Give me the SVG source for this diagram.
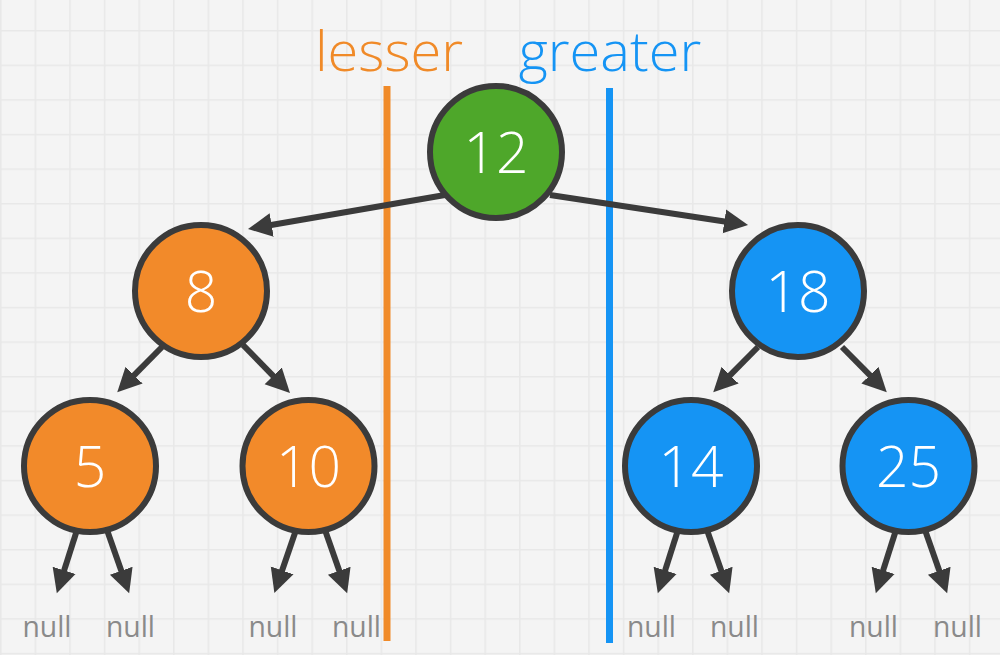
<svg xmlns="http://www.w3.org/2000/svg" width="1000" height="655" viewBox="0 0 1000 655">
<defs>
<pattern id="grid" patternUnits="userSpaceOnUse" x="0" y="30" width="34.6" height="34.6">
<rect width="34.6" height="34.6" fill="#f4f4f4"/>
<path d="M0.75 0V34.6M0 0.75H34.6" stroke="#e8e8e8" stroke-width="1.5" fill="none"/>
</pattern>
<marker id="ah" markerUnits="userSpaceOnUse" markerWidth="26" markerHeight="26" viewBox="0 -13 26 26" refX="2" refY="0" orient="auto">
<path d="M0,-12 L24,0 L0,12 z" fill="#3b3b3b"/>
</marker>
<style>
.n{stroke:#3b3b3b;stroke-width:6}
.g{fill:#4ea72a}.o{fill:#f28a2a}.b{fill:#1594f4}
.v{font-family:"Open Sans","Liberation Sans",sans-serif;font-weight:350;font-size:57px;fill:#fff;text-anchor:middle}
.c line{stroke:#3b3b3b;stroke-width:6;marker-end:url(#ah)}
.nl{font-family:"Open Sans","Liberation Sans",sans-serif;font-size:30px;fill:#8a8a8a;text-anchor:middle}
.h{font-family:"Open Sans","Liberation Sans",sans-serif;font-weight:350;font-size:56px}
</style>
</defs>
<rect width="1000" height="655" fill="url(#grid)"/>
<g id="divider-lesser">
<line x1="387" y1="86" x2="387" y2="641" stroke="#f08a28" stroke-width="7"/>
<text class="h" x="389" y="71" fill="#f08a28" text-anchor="middle">lesser</text>
</g>
<g id="divider-greater">
<line x1="609.5" y1="88" x2="609.5" y2="643" stroke="#1594f4" stroke-width="7"/>
<text class="h" x="610" y="71" fill="#1594f4" text-anchor="middle">greater</text>
</g>
<g id="connectors" class="c">
<line x1="445" y1="195" x2="269.7" y2="225.3"/>
<line x1="550" y1="195" x2="726.3" y2="221.7"/>
<line x1="162" y1="347" x2="132.7" y2="376.6"/>
<line x1="243" y1="345" x2="274.6" y2="377.3"/>
<line x1="758" y1="347" x2="728.7" y2="376.6"/>
<line x1="842" y1="347" x2="871.3" y2="376.6"/>
<line x1="77" y1="530" x2="63.5" y2="572.3"/>
<line x1="107" y1="530" x2="121.9" y2="572.6"/>
<line x1="296" y1="530" x2="281.5" y2="572.3"/>
<line x1="325" y1="530" x2="339.9" y2="572.6"/>
<line x1="678" y1="530" x2="664.5" y2="572.3"/>
<line x1="707" y1="530" x2="721.9" y2="572.6"/>
<line x1="896" y1="530" x2="882.5" y2="572.3"/>
<line x1="925" y1="530" x2="939.9" y2="572.6"/>
</g>
<g id="node-12"><circle class="n g" cx="496" cy="152" r="66"/><text class="v" x="496" y="173">12</text></g>
<g id="node-8"><circle class="n o" cx="201" cy="291" r="66"/><text class="v" x="201" y="312">8</text></g>
<g id="node-18"><circle class="n b" cx="798" cy="291" r="66"/><text class="v" x="798" y="312">18</text></g>
<g id="node-5"><circle class="n o" cx="90" cy="466" r="66"/><text class="v" x="90" y="487">5</text></g>
<g id="node-10"><circle class="n o" cx="308.5" cy="466" r="66"/><text class="v" x="308.5" y="487">10</text></g>
<g id="node-14"><circle class="n b" cx="691" cy="466" r="66"/><text class="v" x="691" y="487">14</text></g>
<g id="node-25"><circle class="n b" cx="908.5" cy="466" r="66"/><text class="v" x="908.5" y="487">25</text></g>
<g id="null-labels">
<text class="nl" x="47" y="637" textLength="49" lengthAdjust="spacingAndGlyphs">null</text>
<text class="nl" x="130.5" y="637" textLength="49" lengthAdjust="spacingAndGlyphs">null</text>
<text class="nl" x="273" y="637" textLength="49" lengthAdjust="spacingAndGlyphs">null</text>
<text class="nl" x="356.5" y="637" textLength="49" lengthAdjust="spacingAndGlyphs">null</text>
<text class="nl" x="651.5" y="637" textLength="49" lengthAdjust="spacingAndGlyphs">null</text>
<text class="nl" x="734.5" y="637" textLength="49" lengthAdjust="spacingAndGlyphs">null</text>
<text class="nl" x="873.5" y="637" textLength="49" lengthAdjust="spacingAndGlyphs">null</text>
<text class="nl" x="957.5" y="637" textLength="49" lengthAdjust="spacingAndGlyphs">null</text>
</g>
</svg>
